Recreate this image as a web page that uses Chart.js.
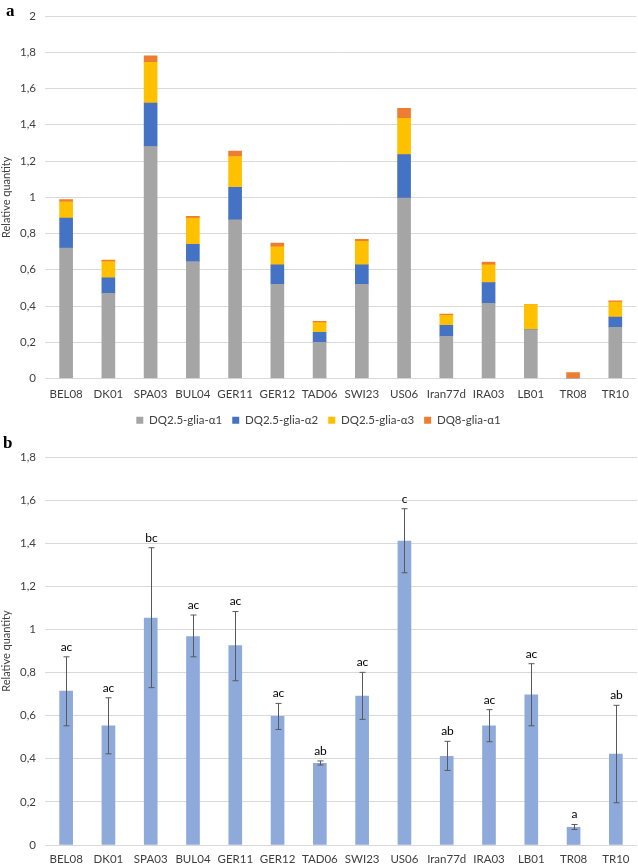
<!DOCTYPE html>
<html>
<head>
<meta charset="utf-8">
<script src="https://cdn.jsdelivr.net/npm/chart.js@4"></script>
<style>
    body { margin: 0; background: #fff; width: 638px; height: 865px; position: relative; overflow: hidden; }
    .panel { position: absolute; left: 0; width: 638px; }
    .tag { position: absolute; left: 5px; font: bold 17px "Liberation Serif", "DejaVu Serif", serif; color: #000; line-height: 17px; z-index: 2; }
</style>
</head>
<body>
<div class="tag" style="top: 2px; left: 6px;">a</div>
<div class="panel" style="top: 0px; height: 440px;"><canvas id="chartA" width="638" height="440"></canvas></div>
<div class="tag" style="top: 434px; left: 3px;">b</div>
<div class="panel" style="top: 437px; height: 428px;"><canvas id="chartB" width="638" height="428"></canvas></div>
<script>
const categories = ["BEL08", "DK01", "SPA03", "BUL04", "GER11", "GER12", "TAD06", "SWI23", "US06", "Iran77d", "IRA03", "LB01", "TR08", "TR10"];

// panel a - stacked epitope quantities
const alpha1 = [0.72, 0.47, 1.28, 0.645, 0.875, 0.52, 0.2, 0.52, 0.995, 0.233, 0.415, 0.27, 0, 0.283];
const alpha2 = [0.165, 0.085, 0.24, 0.095, 0.18, 0.107, 0.055, 0.107, 0.24, 0.061, 0.114, 0, 0, 0.056];
const alpha3 = [0.09, 0.09, 0.225, 0.145, 0.17, 0.1, 0.053, 0.13, 0.2, 0.054, 0.098, 0.138, 0, 0.082];
const dq8 = [0.012, 0.008, 0.035, 0.01, 0.03, 0.02, 0.007, 0.011, 0.056, 0.008, 0.015, 0, 0.033, 0.007];

// panel b - means with error bars and group letters
const meanQty = [0.714, 0.553, 1.053, 0.967, 0.925, 0.597, 0.379, 0.691, 1.41, 0.411, 0.553, 0.697, 0.082, 0.422];
const errLow = [0.553, 0.423, 0.73, 0.873, 0.762, 0.536, 0.371, 0.583, 1.263, 0.346, 0.479, 0.553, 0.072, 0.196];
const errHigh = [0.873, 0.683, 1.379, 1.067, 1.083, 0.657, 0.39, 0.801, 1.56, 0.481, 0.628, 0.841, 0.095, 0.648];
const groupLetters = ["ac", "ac", "bc", "ac", "ac", "ac", "ab", "ac", "c", "ab", "ac", "ac", "a", "ab"];

const FONT = "Lato, 'Open Sans', sans-serif";
const TEXT = "#404040";
const GRID = "#d9d9d9";
const comma = v => String(Math.round(v * 10) / 10).replace(".", ",");

Chart.defaults.animation = false;
Chart.defaults.font.family = FONT;
Chart.defaults.font.size = 11;
Chart.defaults.color = TEXT;

function yScale(max) {
    return {
        min: 0, max: max,
        ticks: { stepSize: 0.2, padding: 9, callback: v => comma(v), font: { size: 11.5 } },
        grid: { color: GRID, drawTicks: false },
        border: { display: false },
        title: { display: true, text: "Relative quantity", padding: { top: 0, bottom: 0 }, font: { size: 11 } },
        afterFit: s => { s.width = 45; }
    };
}

function xScale(h, pad) {
    return {
        stacked: true,
        grid: { display: false, drawTicks: false },
        border: { display: false },
        ticks: { padding: pad, font: { size: 11.5 }, maxRotation: 0, autoSkip: false },
        afterFit: s => { s.height = h; }
    };
}

function layer(label, data, color) {
    return { label, data, backgroundColor: color, barThickness: 13, borderWidth: 0 };
}

new Chart(document.getElementById("chartA"), {
    type: "bar",
    data: {
        labels: categories,
        datasets: [
            layer("DQ2.5-glia-α1", alpha1, "#a5a5a5"),
            layer("DQ2.5-glia-α2", alpha2, "#4472c4"),
            layer("DQ2.5-glia-α3", alpha3, "#ffc000"),
            layer("DQ8-glia-α1", dq8, "#ed7d31")
        ]
    },
    options: {
        responsive: false,
        layout: { padding: { top: 16, right: 1, bottom: 4, left: 0 } },
        scales: {
            x: xScale(26, 9),
            y: Object.assign(yScale(2), { stacked: true })
        },
        plugins: {
            tooltip: { enabled: false },
            legend: {
                position: "bottom",
                labels: { boxWidth: 7, boxHeight: 7, padding: 10, font: { size: 11.5 } }
            }
        }
    }
});

const errorBars = {
    id: "errorBars",
    afterDatasetsDraw(chart) {
        const { ctx, scales: { x, y } } = chart;
        ctx.save();
        ctx.strokeStyle = "#595959";
        ctx.lineWidth = 1;
        ctx.fillStyle = "#000";
        ctx.font = "12px " + FONT;
        ctx.textAlign = "center";
        ctx.textBaseline = "bottom";
        categories.forEach((c, i) => {
            const cx = Math.round(x.getPixelForValue(i)) + 0.5;
            const top = y.getPixelForValue(errHigh[i]);
            const bot = y.getPixelForValue(errLow[i]);
            ctx.beginPath();
            ctx.moveTo(cx, top); ctx.lineTo(cx, bot);
            ctx.moveTo(cx - 3, top); ctx.lineTo(cx + 3, top);
            ctx.moveTo(cx - 3, bot); ctx.lineTo(cx + 3, bot);
            ctx.stroke();
            ctx.fillText(groupLetters[i], cx, top - 4);
        });
        ctx.restore();
    }
};

new Chart(document.getElementById("chartB"), {
    type: "bar",
    data: {
        labels: categories,
        datasets: [layer("Relative quantity", meanQty, "#8eaadb")]
    },
    options: {
        responsive: false,
        layout: { padding: { top: 20, right: 1, bottom: 0, left: 0 } },
        scales: { x: xScale(20, 7), y: yScale(1.8) },
        plugins: { tooltip: { enabled: false }, legend: { display: false } }
    },
    plugins: [errorBars]
});
</script>
</body>
</html>
